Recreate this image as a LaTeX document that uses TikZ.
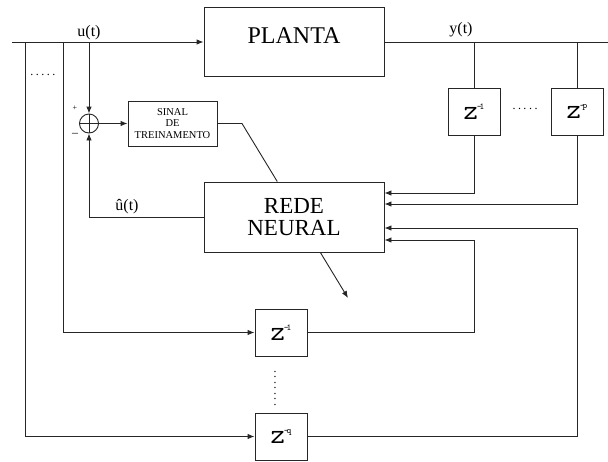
\documentclass[tikz,border=0pt]{standalone}
\usepackage{fontspec}
\setmainfont{Liberation Serif}
\newfontfamily\zfont{Latin Modern Mono}
\usetikzlibrary{arrows.meta, positioning, calc}
\newcommand{\zatraso}[1]{{\fontsize{28}{28}\selectfont z}\kern-1pt\raisebox{10pt}{\fontsize{9}{9}\selectfont -\kern-2pt#1}}
\begin{document}
\begin{tikzpicture}[x=1pt, y=-1pt,
    >={Latex[length=7pt, width=5.5pt]},
    every node/.style={inner sep=0pt, align=center},
    linha/.style={draw=black!85, line width=0.9pt},
    bloco/.style={linha, fill=white},
    atraso/.style={bloco, minimum width=52pt, minimum height=47pt, font=\zfont},
    rotulo/.style={font=\fontsize{16}{16}\selectfont}
]
\fill[white] (0,0) rectangle (608,461);
\useasboundingbox (0,0) rectangle (608,461);
% Blocos principais
\node[bloco, minimum width=180pt, minimum height=69pt] (planta) at (294,42) {};
\node[font=\fontsize{24}{24}\selectfont] (planta-txt) at (294,35.5) {PLANTA};
\node[bloco, minimum width=180pt, minimum height=70pt, font=\fontsize{23}{22}\selectfont] (rede) at (294,217) {REDE\\NEURAL};
\node[bloco, minimum width=89pt, minimum height=45pt, font=\fontsize{10.5}{11.5}\selectfont] (sinal) at (172.5,123.5) {SINAL\\DE\\TREINAMENTO};
\node[linha, circle, minimum size=19pt] (soma) at (89,123.5) {};
\draw[linha] (soma.north) -- (soma.south) (soma.west) -- (soma.east);
% Atrasos
\node[atraso] (z1a) at (474,112) {\zatraso{1}};
\node[atraso] (zp) at (577,112) {\zatraso{p}};
\node[atraso] (z1b) at (281,332.5) {\zatraso{1}};
\node[atraso] (zq) at (281,436.5) {\zatraso{q}};
% Pontos de ramificacao
\coordinate (ini) at (12,42);
\coordinate (fim) at (608,42);
\coordinate (r-q) at (25,42);
\coordinate (r-1) at (63,42);
\coordinate (d0) at (242,123.5);
\coordinate (d1) at (348,298);
% Ligacoes
\draw[linha,->] (ini) -- (planta);
\draw[linha] (planta) -- (fim);
\draw[linha,->] (soma |- ini) -- (soma);
\draw[linha,->] (r-1) |- (z1b);
\draw[linha,->] (r-q) |- (zq);
\draw[linha] (z1a |- fim) -- (z1a);
\draw[linha] (zp |- fim) -- (zp);
\draw[linha,->] (z1a) |- ([yshift=24pt]rede.east);
\draw[linha,->] (zp) |- ([yshift=13pt]rede.east);
\draw[linha,->] (z1b.east) -- (z1b.east -| z1a) |- ([yshift=-23pt]rede.east);
\draw[linha,->] (zq.east) -- (zq.east -| zp) |- ([yshift=-11pt]rede.east);
\draw[linha,->] (rede) -| (soma);
\draw[linha,->] (soma) -- (sinal);
\draw[linha] (sinal.east) -- (d0) -- (intersection of d0--d1 and rede.north west--rede.north east);
\draw[linha,->] (intersection of d0--d1 and rede.south west--rede.south east) -- (d1);
% Rotulos
\node[rotulo] (u) at (89,33) {u(t)};
\node[rotulo] (y) at (461,30) {y(t)};
\node[rotulo] (uhat) at (127,207) {û(t)};
\node[font=\fontsize{8}{8}\selectfont] (mais) at (75,108) {+};
\node[font=\fontsize{12}{12}\selectfont] (menos) at (75,135) {--};
\foreach \nome/\x/\y/\rot in {pu/43/75/0, py/525/109/0, pz/275/388/90}
    \node[rotate=\rot, font=\fontsize{12}{12}\selectfont] (\nome) at (\x,\y) {.\kern2.5pt.\kern2.5pt.\kern2.5pt.\kern2.5pt.\ifnum\rot=90\kern2.5pt.\kern2.5pt.\fi};
\end{tikzpicture}
\end{document}
